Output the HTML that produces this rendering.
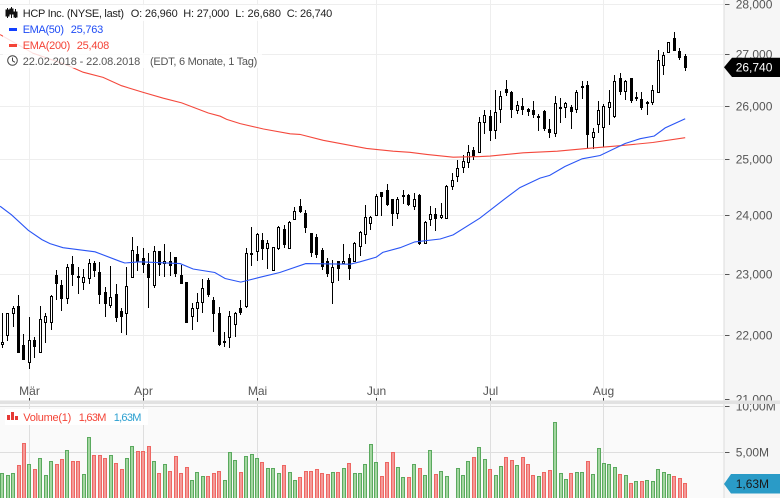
<!DOCTYPE html>
<html lang="de">
<head>
<meta charset="utf-8">
<title>HCP Inc. Chart</title>
<style>
html,body{margin:0;padding:0;background:#fff;}
svg{display:block;font-family:"Liberation Sans",sans-serif;}
text{font-size:12px;}
.lg{font-size:11px;}
</style>
</head>
<body>
<svg id="chart" xmlns="http://www.w3.org/2000/svg" width="780" height="498" viewBox="0 0 780 498">
  <defs>
    <clipPath id="plotClip"><rect x="0" y="0" width="723.5" height="400"/></clipPath>
    <clipPath id="volClip"><rect x="0" y="404" width="723.5" height="94"/></clipPath>
  </defs>
  <rect x="0" y="0" width="724" height="400" fill="#ffffff"/>
  <rect x="0" y="404" width="724" height="94" fill="#fafafa"/>
  <rect x="724" y="0" width="56" height="498" fill="#f6f6f6"/>
  <g id="grid"></g>
  <g id="volumes" clip-path="url(#volClip)"></g>
  <g id="candles" clip-path="url(#plotClip)"></g>
  <g id="emas" clip-path="url(#plotClip)"></g>
  <line x1="724" y1="0" x2="724" y2="498" stroke="#dcdcdc" stroke-width="1"/>
  <g id="axis"></g>
  <rect x="0" y="400.5" width="780" height="3.5" fill="#e2e2e2"/>
  <line x1="0" y1="406.5" x2="724" y2="406.5" stroke="#dedede"/>

  <g>
    <rect x="3" y="5" width="333" height="16" fill="#fff" fill-opacity="0.85"/>
    <rect x="3" y="21" width="104" height="16" fill="#fff" fill-opacity="0.85"/>
    <rect x="3" y="37" width="110" height="16" fill="#fff" fill-opacity="0.85"/>
    <rect x="3" y="53" width="259" height="15" fill="#fff" fill-opacity="0.8"/>
    <g stroke="#111" fill="#111">
      <line x1="7.5" y1="8" x2="7.5" y2="18"/><rect x="6" y="10" width="3" height="6"/>
      <line x1="11.5" y1="7" x2="11.5" y2="18"/><rect x="10" y="9" width="3" height="5"/>
      <line x1="15.5" y1="9" x2="15.5" y2="18"/><rect x="14" y="12" width="3" height="5"/>
    </g>
    <text class="lg" x="22.7" y="17" fill="#222" textLength="101.3">HCP Inc. (NYSE, last)</text>
    <text class="lg" x="130.7" y="17" fill="#222" textLength="47">O: 26,960</text>
    <text class="lg" x="183.3" y="17" fill="#222" textLength="46">H: 27,000</text>
    <text class="lg" x="235.3" y="17" fill="#222" textLength="45.7">L: 26,680</text>
    <text class="lg" x="286.7" y="17" fill="#222" textLength="45.6">C: 26,740</text>
    <rect x="9" y="28" width="8" height="3" fill="#1240ff"/>
    <text class="lg" x="22.7" y="33" fill="#1f4cf5" textLength="41.3">EMA(50)</text>
    <text class="lg" x="70.7" y="33" fill="#1f4cf5" textLength="32.6">25,763</text>
    <rect x="9" y="44" width="8" height="3" fill="#f44336"/>
    <text class="lg" x="22.7" y="49" fill="#f44336" textLength="47.6">EMA(200)</text>
    <text class="lg" x="76.7" y="49" fill="#f44336" textLength="32.6">25,408</text>
    <g fill="none" stroke="#444" stroke-width="1">
      <circle cx="12.5" cy="60.5" r="4.8"/><path d="M12.5 57.5V60.8L15 62.3"/>
    </g>
    <text class="lg" x="22.7" y="65" fill="#555" textLength="117.6">22.02.2018 - 22.08.2018</text>
    <text class="lg" x="150" y="65" fill="#555" textLength="107.3">(EDT, 6 Monate, 1 Tag)</text>
  </g>

  <g>
    <rect x="5" y="409" width="143" height="16" fill="#fff"/>
    <g fill="#e53935">
      <rect x="7" y="415" width="3" height="5"/><rect x="11" y="412" width="3" height="8"/><rect x="15" y="416" width="3" height="4"/>
    </g>
    <text class="lg" x="23.3" y="421" fill="#f44336" textLength="48">Volume(1)</text>
    <text class="lg" x="78.7" y="421" fill="#f44336" textLength="27.7">1,63M</text>
    <text class="lg" x="113.7" y="421" fill="#2a9fd0" textLength="27.7">1,63M</text>
  </g>

  <g>
    <polygon points="724,67.3 732,57.7 780,57.7 780,77 732,77" fill="#000"/>
    <text x="735.7" y="71.5" fill="#fff">26,740</text>
  </g>
  <g>
    <polygon points="724,484 731,474 780,474 780,493.5 731,493.5" fill="#2a9bc7"/>
    <text x="735.7" y="488" fill="#1a1a1a">1,63M</text>
  </g>
</svg>
<script>
const opens=[21.85,22.00,22.36,22.46,21.84,21.57,21.92,21.73,22.20,22.21,22.98,22.82,22.60,23.16,22.97,22.87,22.93,23.19,23.03,22.69,22.49,22.67,22.39,22.35,22.95,23.33,23.26,23.17,22.82,23.38,23.19,23.22,23.29,22.98,22.87,22.30,22.44,22.53,22.89,22.57,22.36,21.88,21.97,22.18,22.44,22.46,23.35,23.39,23.57,23.44,23.07,23.44,23.76,23.44,23.94,24.16,24.05,23.69,23.62,23.40,23.21,22.87,23.21,23.19,23.26,23.22,23.47,23.67,23.86,24.00,24.41,24.45,24.29,24.05,24.34,24.36,24.16,24.36,23.52,23.93,24.02,23.98,23.95,24.52,24.70,24.86,24.96,25.17,25.13,25.70,25.81,25.54,25.93,26.31,26.25,25.91,26.00,25.93,25.91,25.79,25.89,25.56,25.48,25.96,25.98,25.98,25.94,26.35,26.40,25.41,25.65,25.59,25.98,25.80,26.52,26.27,26.52,26.15,26.13,26.04,26.06,26.25,26.79,27.04,27.32,27.06,26.96];
const highs=[22.36,22.36,22.48,22.65,22.02,22.30,21.98,22.48,22.36,22.66,23.07,22.91,23.17,23.31,23.12,23.09,23.26,23.22,23.21,22.79,23.14,22.84,22.44,23.12,23.64,23.48,23.45,23.36,23.48,23.38,23.52,23.38,23.29,23.16,22.87,22.53,22.69,22.92,22.93,22.62,22.46,22.06,22.40,22.38,22.58,23.45,23.81,23.71,23.71,23.59,23.47,23.83,23.85,23.91,24.15,24.29,24.11,23.71,23.68,23.45,23.28,23.24,23.23,23.52,23.35,23.55,23.74,24.20,24.00,24.38,24.43,24.57,24.30,24.34,24.45,24.39,24.41,24.39,23.91,24.18,24.14,24.23,24.54,24.77,25.00,25.09,25.28,25.24,25.80,25.93,25.93,26.31,26.29,26.50,26.29,26.10,26.15,25.96,26.10,25.85,25.93,25.76,26.19,26.15,26.08,26.02,26.31,26.48,26.48,25.59,26.10,26.04,26.31,26.60,26.63,26.50,26.54,26.27,26.27,26.10,26.40,27.08,27.04,27.24,27.44,27.12,27.00];
const lows=[21.79,21.91,22.13,21.73,21.62,21.47,21.64,21.73,21.88,22.08,22.57,22.39,22.50,22.81,22.68,22.74,22.83,22.95,22.50,22.29,22.45,22.22,22.03,22.01,22.95,23.06,23.03,22.44,22.77,22.97,22.95,22.97,22.95,22.84,22.20,22.08,22.22,22.36,22.63,22.06,21.83,21.82,21.80,21.98,22.33,22.44,23.14,23.23,23.24,23.09,23.05,23.41,23.44,23.43,23.94,24.05,23.71,23.30,23.27,23.07,22.95,22.50,22.88,23.17,22.91,23.21,23.31,23.51,23.76,24.00,23.99,24.17,23.83,23.94,24.21,24.17,24.11,23.49,23.51,23.83,23.73,23.95,23.95,24.45,24.60,24.77,24.86,25.00,25.13,25.48,25.35,25.38,25.68,26.19,25.77,25.86,25.83,25.81,25.77,25.53,25.54,25.41,25.43,25.68,25.77,25.57,25.87,26.13,25.20,25.20,25.50,25.23,25.64,25.78,26.21,26.12,26.06,26.09,25.93,25.84,26.03,26.24,26.60,27.04,27.06,26.89,26.68];
const closes=[21.89,22.36,22.44,21.73,21.62,21.92,21.82,22.26,22.30,22.63,22.85,22.60,23.12,22.99,22.95,22.95,23.19,23.06,22.67,22.52,22.61,22.29,22.31,22.79,23.40,23.22,23.17,22.95,23.38,23.16,23.21,23.14,23.02,22.85,22.21,22.43,22.53,22.77,22.66,22.36,21.86,21.90,22.31,22.35,22.37,23.35,23.36,23.67,23.44,23.53,23.45,23.79,23.51,23.88,24.07,24.08,23.79,23.37,23.33,23.13,23.01,23.12,23.10,23.21,23.10,23.52,23.71,23.98,23.98,24.34,24.34,24.20,24.04,24.29,24.36,24.20,24.29,23.52,23.88,24.02,23.95,24.00,24.52,24.62,24.84,24.98,25.13,25.07,25.70,25.83,25.55,25.87,26.19,26.25,25.94,26.02,25.94,25.89,25.85,25.80,25.57,25.51,26.04,25.98,26.04,25.89,26.25,26.37,25.46,25.50,25.91,26.00,26.06,26.48,26.27,26.48,26.10,26.17,25.98,26.06,26.29,26.87,26.98,27.24,27.08,26.94,26.74];
const volumes=[2.73,2.51,2.73,3.59,5.96,3.70,3.16,4.35,2.51,4.02,3.70,4.24,5.21,4.02,4.02,2.62,6.61,4.67,4.67,4.35,4.67,3.81,3.16,4.35,5.64,5.10,5.10,5.64,4.02,2.73,3.70,2.94,4.56,2.73,3.37,1.97,2.83,2.40,2.40,2.73,2.94,1.97,4.99,4.13,2.83,4.56,4.78,4.35,3.91,3.27,3.27,2.73,3.59,2.83,1.97,2.29,2.94,2.94,3.16,2.73,2.62,2.83,2.83,3.27,3.81,2.73,2.73,3.70,5.86,3.91,2.40,3.91,4.99,3.37,2.29,2.29,3.70,3.27,2.51,5.21,2.62,2.94,2.40,0,3.27,2.51,4.02,4.45,5.53,4.24,3.16,2.51,3.48,4.45,4.13,3.59,4.45,3.70,2.51,2.40,2.83,3.05,8.23,2.73,2.08,2.73,2.83,2.83,4.02,2.62,5.42,3.81,3.70,3.37,2.62,2.51,1.65,1.86,1.86,1.97,1.86,3.16,2.83,2.62,2.40,2.19,1.63];
const ema50Days=[-0.4,1.7,4.8,7.3,8.8,11.2,17.1,21.7,22.6,25.4,32.8,35.2,39.2,41.1,44,47.5,51.2,56,64.2,66,69,70.2,73.4,76.1,80.8,83.2,88.1,92.7,95.5,99.2,101,103.8,107,110.3,114.9,117.7,120.3,122.3,126];
const ema50Values=[24.17,24.02,23.75,23.59,23.52,23.45,23.38,23.22,23.19,23.21,23.18,23.09,23.03,22.93,22.87,22.95,23.03,23.18,23.17,23.21,23.29,23.37,23.45,23.55,23.60,23.67,23.96,24.30,24.50,24.67,24.72,24.88,25.02,25.08,25.30,25.39,25.44,25.59,25.763];
const ema200Days=[-0.4,5.7,11.9,14.9,18.6,22,26,29.7,33.1,38,40.2,41.4,43.9,46.9,48.2,53.1,54.9,59.2,67.2,72.1,75.2,78.3,83.2,88.1,90,96.1,102.4,107.9,114,120,126];
const ema200Values=[27.39,27.02,26.79,26.65,26.55,26.39,26.26,26.15,26.06,25.87,25.81,25.75,25.67,25.60,25.57,25.48,25.47,25.36,25.21,25.16,25.14,25.10,25.05,25.06,25.07,25.13,25.16,25.21,25.26,25.32,25.408];
const priceTicks=[28,27,26,25,24,23,22,21];
const priceTickLabels=["28,000","27,000","26,000","25,000","24,000","23,000","22,000","21,000"];
const volumeTicks=[10,5];
const volumeTickLabels=["10,00M","5,00M"];
const monthDays=[5,26,47,69,90,111];
const monthLabels=["Mär","Apr","Mai","Jun","Jul","Aug"];

const NS="http://www.w3.org/2000/svg";
const xAxis=function(i){return 2.3+5.42*i;};
const yPrice=function(p){return 335.3-1372*Math.log(p/22);};
const yVolume=function(v){return 498.6-9.26*v;};
const snap=function(v){return Math.floor(v)+0.5;};
function make(tag,parent,attrs){
  const el=document.createElementNS(NS,tag);
  for(const k in attrs){el.setAttribute(k,attrs[k]);}
  parent.appendChild(el);
  return el;
}
const gridG=document.getElementById("grid");
const volG=document.getElementById("volumes");
const candleG=document.getElementById("candles");
const emaG=document.getElementById("emas");
const axisG=document.getElementById("axis");

priceTicks.forEach(function(p,n){
  const y=snap(yPrice(p));
  if(p>21){
    const g=make("line",gridG,{x1:0,x2:724,y1:y,y2:y,stroke:"#eeeeee","stroke-width":1});
    
    
  }
  const t=make("line",axisG,{x1:725,x2:729.5,y1:y,y2:y,stroke:"#555","stroke-width":1});
  
  
  const l=make("text",axisG,{x:735.7,y:y+4,fill:"#555"});
  
  
  l.textContent=priceTickLabels[n];
});
volumeTicks.forEach(function(v,n){
  const y=snap(yVolume(v));
  if(v<10){
    const g=make("line",gridG,{x1:0,x2:724,y1:y,y2:y,stroke:"#dedede","stroke-width":1});
    
    
  }
  const t=make("line",axisG,{x1:725,x2:729.5,y1:y,y2:y,stroke:"#555","stroke-width":1});
  
  
  const l=make("text",axisG,{x:735.7,y:y+4,fill:"#555"});
  
  
  l.textContent=volumeTickLabels[n];
});
monthDays.forEach(function(d,n){
  const x=snap(xAxis(d));
  const g1=make("line",gridG,{x1:x,x2:x,y1:0,y2:400,stroke:"#eeeeee","stroke-width":1});
  
  
  const g2=make("line",gridG,{x1:x,x2:x,y1:404,y2:498,stroke:"#dedede","stroke-width":1});
  
  
  const t=make("line",axisG,{x1:x,x2:x,y1:398,y2:401,stroke:"#333","stroke-width":1});
  
  
  const l=make("text",axisG,{x:x,y:395,fill:"#555","text-anchor":"middle"});
  
  
  l.textContent=monthLabels[n];
});
volumes.forEach(function(v,i){
  if(v<=0){return;}
  const up=closes[i]>=opens[i];
  const x=Math.round(xAxis(i));
  const y=snap(yVolume(v));
  const b=make("rect",volG,{x:x-1.5,y:y,width:3,height:Math.max(0,499-y),fill:up?"#a3d6a0":"#f49a98",stroke:up?"#5aa95e":"#ee6662","stroke-width":1});
  
  
});
opens.forEach(function(o,i){
  const c=closes[i];
  const x=Math.floor(xAxis(i))+0.5;
  const w=make("line",candleG,{x1:x,x2:x,y1:Math.round(yPrice(highs[i])),y2:Math.round(yPrice(lows[i])),stroke:"#000","stroke-width":1});
  
  
  const top=snap(yPrice(Math.max(o,c)));
  const bot=snap(yPrice(Math.min(o,c)));
  const b=make("rect",candleG,{x:x-1,y:top,width:2,height:Math.max(1,bot-top),fill:c>=o?"#fff":"#000",stroke:"#000","stroke-width":1});
  
  
});
function linePath(days,vals){
  return days.map(function(d,i){return (i?"L":"M")+xAxis(d).toFixed(1)+" "+yPrice(vals[i]).toFixed(1);}).join(" ");
}
const e200=make("path",emaG,{d:linePath(ema200Days,ema200Values),fill:"none",stroke:"#f4483c","stroke-width":1.1});


const e50=make("path",emaG,{d:linePath(ema50Days,ema50Values),fill:"none",stroke:"#2a55f5","stroke-width":1.1});


</script>
</body>
</html>
